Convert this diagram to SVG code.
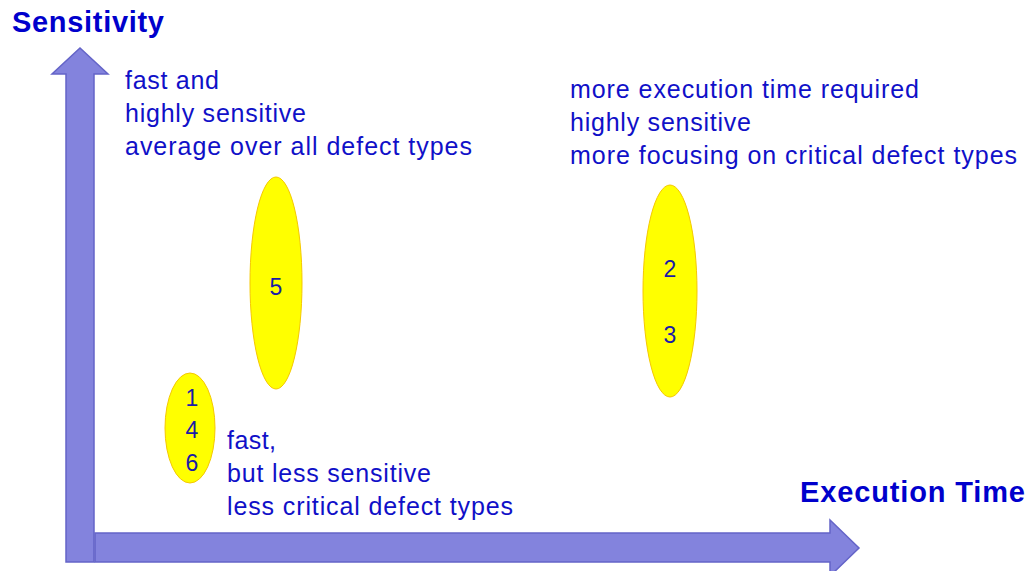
<svg xmlns="http://www.w3.org/2000/svg" width="1027" height="571" viewBox="0 0 1027 571">
<style>
.ax{fill:#8383dd;stroke:#6464c8;stroke-width:1.5}
.el{fill:#ffff00;stroke:#f5c800;stroke-width:1}
.t{font-family:"Liberation Sans",Arial,sans-serif;font-size:25px;fill:#1010c8}
.n{font-family:"Liberation Sans",Arial,sans-serif;font-size:23px;fill:#1a1aa8;text-anchor:middle}
.h{font-family:"Liberation Sans",Arial,sans-serif;font-size:29px;font-weight:bold;fill:#0000cc}
</style>
<rect width="1027" height="571" fill="#fff"/>
<g id="axes">
<polygon id="y-axis" class="ax" points="66,562 66,74 52,74 80,48 108,74 94,74 94,562"/>
<polygon id="x-axis" class="ax" points="95,533 830,533 830,520 859,548 830,576 830,562 95,562"/>
</g>
<text class="h" x="12" y="32" textLength="152" lengthAdjust="spacing">Sensitivity</text>
<text class="h" x="800" y="502" textLength="225" lengthAdjust="spacing">Execution Time</text>
<g id="group5">
<ellipse class="el" cx="276" cy="283" rx="26" ry="106"/>
<text class="n" x="276" y="295">5</text>
</g>
<g id="group23">
<ellipse class="el" cx="670" cy="291" rx="27" ry="106"/>
<text class="n" x="670" y="277">2</text>
<text class="n" x="670" y="343">3</text>
</g>
<g id="group146">
<ellipse class="el" cx="190" cy="428" rx="25" ry="55"/>
<text class="n" x="192" y="406">1</text>
<text class="n" x="192" y="438">4</text>
<text class="n" x="192" y="471">6</text>
</g>
<g id="label-top-left">
<text class="t" x="125" y="89" textLength="94" lengthAdjust="spacing">fast and</text>
<text class="t" x="125" y="122" textLength="181" lengthAdjust="spacing">highly sensitive</text>
<text class="t" x="125" y="155" textLength="347" lengthAdjust="spacing">average over all defect types</text>
</g>
<g id="label-top-right">
<text class="t" x="570" y="98" textLength="349" lengthAdjust="spacing">more execution time required</text>
<text class="t" x="570" y="131" textLength="181" lengthAdjust="spacing">highly sensitive</text>
<text class="t" x="570" y="164" textLength="447" lengthAdjust="spacing">more focusing on critical defect types</text>
</g>
<g id="label-bottom">
<text class="t" x="227" y="449" textLength="49" lengthAdjust="spacing">fast,</text>
<text class="t" x="227" y="482" textLength="204" lengthAdjust="spacing">but less sensitive</text>
<text class="t" x="227" y="515" textLength="286" lengthAdjust="spacing">less critical defect types</text>
</g>
<g id="connectors"></g>
</svg>
